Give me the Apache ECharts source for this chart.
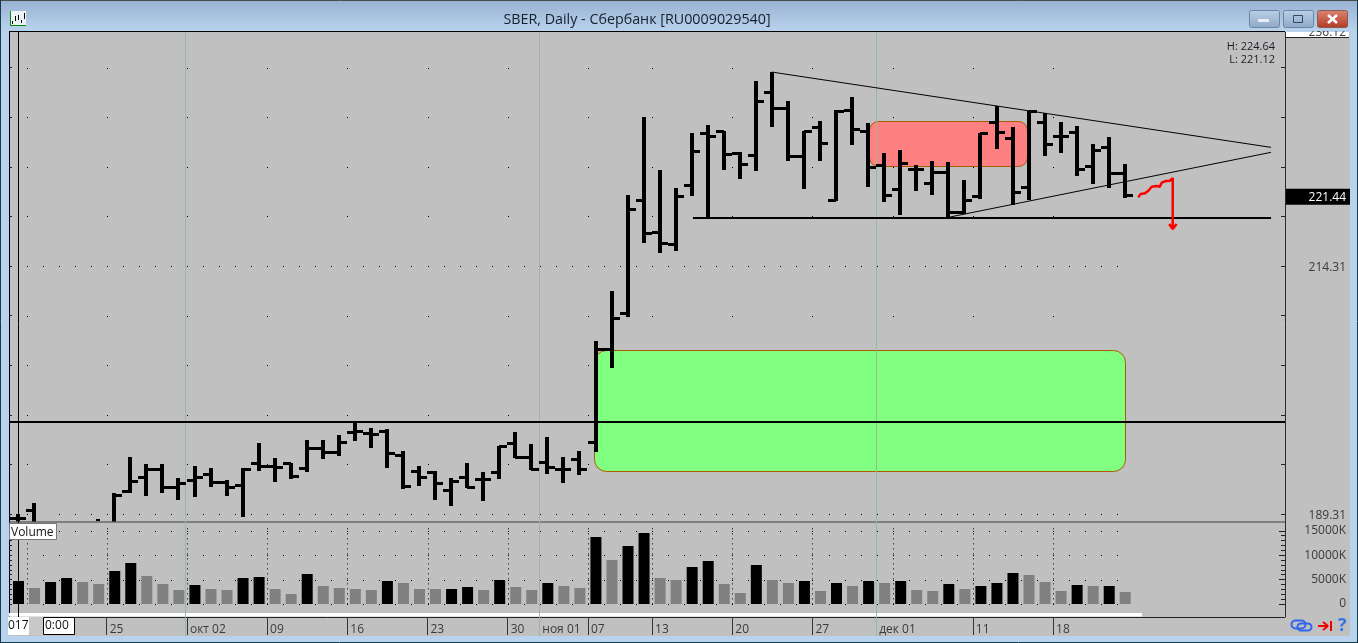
<!DOCTYPE html>
<html><head><meta charset="utf-8">
<style>html,body{margin:0;padding:0;background:#b9d3ee;overflow:hidden}#c{width:1358px;height:643px}</style>
<script src="https://cdn.jsdelivr.net/npm/echarts@6/dist/echarts.min.js"></script>
</head><body><div id="c"></div>
<script>
// Daily bars (null = not readable, outside the visible pane)
const opens=[188.88,189.71,187.5,187.2,187.6,null,188.1,191.66,193.01,193.82,192.06,192.74,193.34,192.57,192.23,194.42,194.15,194.42,193.92,195.93,195.59,197.61,197.44,197.71,195.26,193.67,193.57,191.73,193.07,192.81,193.54,196.44,195.03,194.58,193.85,194.85,196.60,205.97,209.54,220.96,217.74,216.53,222.47,227.75,227.89,225.73,225.50,231.85,230.23,225.40,228.35,220.96,230.03,227.95,224.49,222.04,224.06,222.64,223.81,219.78,221.36,228.85,227.24,222.24,228.85,227.41,227.85,224.39,226.27,223.71];
const highs=[189.36,190.42,188.2,188.1,188.2,188.85,191.40,195.03,194.35,194.35,192.91,194.15,193.92,192.74,193.92,196.44,194.92,194.48,196.77,196.77,197.27,198.51,197.95,197.85,195.69,194.15,193.64,192.91,194.42,193.54,196.19,197.61,196.34,197.04,195.09,195.69,206.75,211.79,221.47,229.30,223.99,222.14,227.68,228.49,227.95,225.83,232.93,233.83,230.91,227.95,228.95,230.03,231.37,228.77,225.67,226.00,224.46,224.89,224.79,222.98,227.75,230.44,228.29,229.96,229.70,228.79,228.42,226.61,227.28,224.64];
const lows=[188.0,187.9,186.6,186.5,186.8,188.65,187.8,191.46,191.12,191.46,190.72,191.05,192.06,191.12,189.04,193.67,192.57,192.81,193.57,194.85,195.19,196.70,195.99,193.98,191.80,192.13,190.72,190.12,191.90,190.65,192.87,194.92,193.75,193.34,192.40,193.21,195.53,204.00,209.14,216.60,215.65,215.85,221.40,219.02,223.99,223.05,223.91,228.29,224.92,222.04,224.92,220.83,226.54,222.24,220.73,219.45,221.90,221.47,219.18,219.55,221.03,226.07,220.46,220.96,225.43,225.67,223.41,222.57,222.20,221.12];
const closes=[188.88,188.2,187.0,187.6,187.2,null,191.23,192.64,193.82,192.06,192.40,193.07,192.57,192.06,193.82,194.15,194.08,193.14,195.93,195.59,196.54,197.71,197.34,195.43,192.13,193.07,192.40,192.64,192.00,192.87,196.16,195.03,193.85,194.08,193.85,193.85,205.97,209.10,220.05,217.67,216.66,221.40,225.93,227.41,225.60,224.59,230.97,230.23,225.43,227.95,226.74,229.96,228.12,224.32,221.47,224.66,224.06,223.81,219.78,220.96,227.68,227.85,221.80,229.90,226.61,227.41,224.09,226.00,223.65,221.44];
const volumes=[4713,3280,4508,5328,4508,4098,6762,8400,5738,4098,2869,3893,3074,2869,5328,5533,3074,2049,6147,3688,3280,3074,2869,4713,4303,3074,3074,3074,3483,2869,4918,3483,2869,4303,3688,3280,13730,9016,11885,14549,5328,4918,7582,8811,4098,2254,7992,4918,4303,4713,2664,4303,3688,4713,4303,4713,2869,2664,4098,3074,3688,4303,6352,5942,4508,2664,3893,3688,3688,2459];
const volumeDark=[1,0,1,1,0,0,1,1,0,0,0,1,0,0,1,1,0,0,1,0,0,0,0,1,0,0,0,1,1,0,1,0,0,1,0,0,1,0,1,1,0,0,1,1,0,0,1,0,0,1,0,1,0,1,0,1,0,0,1,0,1,1,1,0,0,0,1,0,1,0];

const dateTicks=[5.5,10.5,15.5,20.5,25.5,30.5,32.47,35.5,39.5,44.5,49.5,53.47,59.5,64.5];
const dateLabels=['25','окт 02','09','16','23','30','ноя 01','07','13','20','27','дек 01','11','18'];
const weekGrid=[0.5,5.5,10.5,15.5,20.5,25.5,30.5,35.5,39.5,44.5,49.5,54.5,59.5,64.5];
const monthLines=[10.41,32.42,53.43];
const crosshair=[0];
const priceTicks=[189.31,194.31,199.31,204.31,209.31,214.31,219.31,224.31,229.31,234.31];
const priceLabels=[189.31,214.31,221.44];
const volumeMajor=[0,5000,10000,15000];
const volumeMinor=[0,1000,2000,3000,4000,5000,6000,7000,8000,9000,10000,11000,12000,13000,14000,15000];

// Drawn objects on the chart, in (bar index, price)
const zones=[[35.90,69.02,205.84,193.64,'#80ff80','#b05a00',12],[53.05,62.92,228.92,224.39,'#ff8080','#a85a00',9]];
const levelLine=[[-0.592,198.58],[78.96,198.58]];
const supportLine=[[42.05,219.15],[78.09,219.15]];
const upperTrend=[[46.97,233.86],[78.09,226.27]];
const lowerTrend=[[57.95,219.21],[78.09,225.77]];
const redPath=[[69.81,221.23],[69.96,221.57],[70.23,221.64],[70.44,221.90],[70.65,222.30],[70.96,222.37],[71.16,222.30],[71.27,222.71],[71.54,222.88],[71.79,222.91],[71.96,223.18],[71.96,218.04],[71.74,218.55],[71.96,218.04],[72.2,218.55]];

const X_MIN=-0.592,X_MAX=78.96,P_MIN=188.554,P_MAX=237.90,V_MIN=-2664,V_MAX=16800;
const FONT='"Open Sans",sans-serif',TXT='#3a3a3a';

const dots=[];
priceTicks.forEach(p=>{
  if(p===214.31||p===189.31){for(let x=(p===189.31?2.5:0.5);x<=68.5;x++)dots.push([x,p]);if(p===189.31)dots.push([0.5,p]);}
  else weekGrid.forEach(x=>dots.push([x,p]));
});
const volDots=[];
volumeMajor.forEach(v=>{for(let x=1.5;x<=68.5;x++)volDots.push([x,v]);});

function dotItem(params,api){
  const c=api.coord([api.value(0),api.value(1)]);
  return {type:'rect',shape:{x:Math.round(c[0]),y:Math.round(c[1]),width:1,height:1},style:{fill:'#000'}};
}
function ohlcItem(params,api){
  const i=api.value(0),o=api.value(1),h=api.value(2),l=api.value(3),c=api.value(4);
  const cx=Math.round(api.coord([i,h])[0]-0.4);
  const yh=Math.round(api.coord([i,h])[1]),yl=Math.round(api.coord([i,l])[1]);
  const ch=[{type:'rect',shape:{x:cx-2,y:yh,width:4,height:Math.max(yl-yh,1)},style:{fill:'#000'}}];
  if(!isNaN(o)){const y=Math.round(api.coord([i,o])[1]);ch.push({type:'rect',shape:{x:cx-8,y:y-1,width:8,height:3},style:{fill:'#000'}});}
  if(!isNaN(c)){const y=Math.round(api.coord([i,c])[1]);ch.push({type:'rect',shape:{x:cx,y:y-1,width:8,height:3},style:{fill:'#000'}});}
  return {type:'group',children:ch};
}
function zoneItem(params,api){
  const a=api.coord([api.value(0),api.value(2)]),b=api.coord([api.value(1),api.value(3)]);
  const z=zones[params.dataIndex];
  return {type:'rect',shape:{x:Math.round(a[0])+.5,y:Math.round(a[1])+.5,width:Math.round(b[0]-a[0]),height:Math.round(b[1]-a[1]),r:z[6]},style:{fill:z[4],stroke:z[5],lineWidth:1}};
}
function fullLine(color,len){return function(params,api){
  const c=api.coord([api.value(0),P_MAX]);const x=Math.round(c[0])+.5;
  return {type:'line',shape:{x1:x,y1:c[1],x2:x,y2:c[1]+len},style:{stroke:color,lineWidth:1}};
};}
function volDotted(params,api){
  const a=api.coord([api.value(0),15500]),b=api.coord([api.value(0),0]);const x=Math.round(a[0]);
  return {type:'line',shape:{x1:x+.5,y1:a[1],x2:x+.5,y2:b[1]},style:{stroke:'#000',lineWidth:1,lineDash:[1,4]}};
}
function lineSeries(data,w,color,z){return {type:'line',data:data,symbol:'none',silent:true,animation:false,z:z,xAxisIndex:0,yAxisIndex:0,lineStyle:{width:w,color:color}};}

// Window chrome
const L=(x1,y1,x2,y2,c,w,z)=>({type:'line',z:z,silent:true,shape:{x1,y1,x2,y2},style:{stroke:c,lineWidth:w||1}});
const R=(x,y,w,h,fill,z,extra)=>({type:'rect',z:z,silent:true,shape:Object.assign({x,y,width:w,height:h},extra||{}),style:{fill:fill}});
const T=(x,y,t,o,z)=>({type:'text',z:z,silent:true,x:x,y:y,style:Object.assign({text:t,font:'12px '+FONT,fill:TXT,textVerticalAlign:'middle'},o||{})});
const grad=(a,b)=>new echarts.graphic.LinearGradient(0,0,0,1,[{offset:0,color:a},{offset:1,color:b}]);
function button(x,w,a,b){return [
  {type:'rect',z:102,silent:true,shape:{x:x+.5,y:10.5,width:w,height:17,r:2},style:{fill:grad(a,b),stroke:'#6d84a3',lineWidth:1}}
];}
const graphics=[
  R(9,32,1341,604,'#c0c0c0',-2),
  R(9,613,1133,3.5,'#ffffff',1),
  L(9,522,1285,522,'#3c3c3c',1,1),
  L(1285.5,32,1285.5,617,'#2a2a2a',1,1),
  // clipped top label
  R(1286,32,63,5,'#ffffff',1),
  L(1286,37.5,1349,37.5,'#222',1,1),
  T(1346,33,'236.12',{textAlign:'right'},1),
  // H / L
  T(1275,47,'H: 224.64',{textAlign:'right',fill:'#1c1c28',font:'11px '+FONT},8),
  T(1275,60,'L: 221.12',{textAlign:'right',fill:'#1c1c28',font:'11px '+FONT},8),
  // Volume tag
  {type:'rect',z:90,silent:true,shape:{x:9.5,y:523.5,width:47,height:16},style:{fill:'#fff',stroke:'#777',lineWidth:1}},
  T(11,533,'Volume',{fill:'#111',font:'12px '+FONT},91),
  // date box at the left of the time axis
  R(8,617,21,18,'#ffffff',90),
  R(29,617,14,18,'#c8c8c8',90),
  R(43,617,31,18,'#ffffff',90),
  {type:'rect',z:90,silent:true,shape:{x:43.5,y:617.5,width:31,height:17},style:{fill:'transparent',stroke:'#000',lineWidth:1}},
  T(8,626,'017',{fill:'#111'},91),
  T(45,626,'0:00',{fill:'#111'},91),
  // title bar
  {type:'rect',z:100,silent:true,shape:{x:0,y:0,width:1358,height:31},style:{fill:grad('#98b1d1','#b9d2ec')}},
  L(0,.5,1358,.5,'#4a4a4a',1,101),
  L(9,31.5,1285,31.5,'#000',1,101),
  T(637,20,'SBER, Daily - Сбербанк [RU0009029540]',{font:'14.3px '+FONT,fill:'#15202c',textAlign:'center'},101),
  // app icon
  R(10,11,16,15,'#eef2f6',101),
  L(10.5,11,10.5,26,'#0a8a0a',1,102),L(10,25.5,26,25.5,'#0a8a0a',1,102),
  L(12.5,21,12.5,24,'#000',1,102),L(15.5,16,15.5,21,'#000',1,102),L(18.5,15,18.5,20,'#000',1,102),L(21.5,20,21.5,23,'#000',1,102),L(24.5,13,24.5,19,'#000',1,102),
  // window buttons
  ...button(1249,30,'#bcd0e6','#8ea8c8'),...button(1283,30,'#bcd0e6','#8ea8c8'),
  {type:'rect',z:102,silent:true,shape:{x:1317.5,y:10.5,width:30,height:17,r:2},style:{fill:grad('#dc8672','#b23a22'),stroke:'#8e5a55',lineWidth:1}},
  R(1258,19,11,3,'#e8eef5',103),
  {type:'rect',z:103,silent:true,shape:{x:1293.5,y:15.5,width:9,height:7},style:{fill:'transparent',stroke:'#33475f',lineWidth:1}},
  L(1328,15,1337,23,'#fff',2.4,103),L(1337,15,1328,23,'#fff',2.4,103),
  // lower-right tool icons
  {type:'rect',z:103,silent:true,shape:{x:1291.5,y:620.5,width:14,height:8,r:4},style:{fill:'transparent',stroke:'#2f66ee',lineWidth:2}},
  {type:'rect',z:103,silent:true,shape:{x:1297.5,y:623.5,width:14,height:7,r:3.5},style:{fill:'transparent',stroke:'#2f66ee',lineWidth:2}},
  L(1318,626,1327,626,'#f00000',2,103),L(1323,622,1328,626,'#f00000',2,103),L(1323,630,1328,626,'#f00000',2,103),L(1331,621,1331,631,'#f00000',2,103),
  T(1338,626,'?',{font:'bold 18px '+FONT,fill:'#2f74e8'},103),
  // bottom edge
  L(0,642.5,1358,642.5,'#123c4c',1,103),
  L(1357.5,0,1357.5,643,'#123c4c',1,103),L(.5,0,.5,643,'#123c4c',1,103)
];

const baseX={type:'value',min:X_MIN,max:X_MAX,splitLine:{show:false}};
const baseY={type:'value',scale:true,splitLine:{show:false},axisLine:{show:false,onZero:false},axisLabel:{show:false}};
const chart=echarts.init(document.getElementById('c'),null,{renderer:'canvas'});
chart.setOption({
  animation:false,
  backgroundColor:'#b9d3ee',
  grid:[{left:9,top:32,width:1276,height:489.5,show:false},{left:9,top:522,width:1276,height:95,show:false}],
  xAxis:[
    Object.assign({},baseX,{gridIndex:0,position:'top',axisLine:{show:false,onZero:false},axisTick:{show:false},axisLabel:{show:false}}),
    Object.assign({},baseX,{gridIndex:1,position:'bottom',
      axisLine:{show:true,onZero:false,lineStyle:{color:'#222',width:1}},
      axisTick:{show:true,length:18,lineStyle:{color:'#333',width:1},customValues:dateTicks},
      axisLabel:{show:true,customValues:dateTicks,margin:7,align:'left',padding:[0,0,0,3],fontFamily:FONT,fontSize:12,color:TXT,
        formatter:v=>dateLabels[dateTicks.indexOf(v)]||''}})
  ],
  yAxis:[
    Object.assign({},baseY,{gridIndex:0,position:'right',min:P_MIN,max:P_MAX,
      axisLine:{show:false,onZero:false},
      axisTick:{show:true,inside:true,length:4,lineStyle:{color:'#222'},customValues:priceTicks},
      axisLabel:{show:true,customValues:priceLabels,align:'left',margin:0,padding:[3,0,0,0],fontFamily:FONT,fontSize:12,
        formatter:v=>v===221.44?'{tag|'+v.toFixed(2)+'}':'{plain|'+v.toFixed(2)+'}',
        rich:{plain:{width:61,align:'right',color:TXT,fontFamily:FONT,fontSize:12},
              tag:{width:61,height:15,align:'right',color:'#fff',backgroundColor:'#000',padding:[1,4,0,0],fontFamily:FONT,fontSize:12}}}}),
    Object.assign({},baseY,{gridIndex:0,position:'left',min:P_MIN,max:P_MAX,
      axisLine:{show:true,onZero:false,lineStyle:{color:'#000'}},
      axisTick:{show:true,inside:true,length:3,lineStyle:{color:'#222'},customValues:priceTicks}}),
    Object.assign({},baseY,{gridIndex:1,position:'right',min:V_MIN,max:V_MAX,
      axisLine:{show:false,onZero:false},
      axisTick:{show:true,inside:true,length:6,lineStyle:{color:'#222'},customValues:volumeMajor},
      axisLabel:{show:true,customValues:volumeMajor,align:'right',margin:61,padding:[2,0,0,0],fontFamily:FONT,fontSize:12,color:TXT,
        formatter:v=>v===0?'0':v+'K'}}),
    Object.assign({},baseY,{gridIndex:1,position:'right',min:V_MIN,max:V_MAX,
      axisTick:{show:true,inside:true,length:4,lineStyle:{color:'#222'},customValues:volumeMinor}}),
    Object.assign({},baseY,{gridIndex:1,position:'left',min:V_MIN,max:V_MAX,
      axisLine:{show:true,onZero:false,lineStyle:{color:'#000'}},
      axisTick:{show:true,inside:true,length:3,lineStyle:{color:'#222'},customValues:volumeMinor}})
  ],
  series:[
    {type:'custom',name:'grid dots',silent:true,z:1,clip:true,xAxisIndex:0,yAxisIndex:0,renderItem:dotItem,data:dots},
    {type:'custom',name:'zones',silent:true,z:2,clip:true,xAxisIndex:0,yAxisIndex:0,renderItem:zoneItem,data:zones.map(z=>z.slice(0,4))},
    {type:'custom',name:'month lines',silent:true,z:3,clip:false,xAxisIndex:0,yAxisIndex:0,renderItem:fullLine('#9ab89a',604),data:monthLines.map(x=>[x])},
    lineSeries(levelLine,2,'#000',4),
    lineSeries(supportLine,2,'#000',4),
    lineSeries(upperTrend,1,'#000',4),
    lineSeries(lowerTrend,1,'#000',4),
    lineSeries(redPath,2.5,'#ff0000',6),
    {type:'custom',name:'SBER',silent:true,z:5,clip:true,xAxisIndex:0,yAxisIndex:0,renderItem:ohlcItem,
      dimensions:['i','o','h','l','c'],encode:{x:0,y:[1,2,3,4]},
      data:opens.map((o,i)=>[i,o,highs[i],lows[i],closes[i]])},
    {type:'custom',name:'crosshair',silent:true,z:7,clip:false,xAxisIndex:0,yAxisIndex:0,renderItem:fullLine('#000',585),data:crosshair.map(x=>[x])},
    {type:'custom',name:'vol dots',silent:true,z:1,clip:true,xAxisIndex:1,yAxisIndex:2,renderItem:dotItem,data:volDots},
    {type:'custom',name:'vol week lines',silent:true,z:1,clip:true,xAxisIndex:1,yAxisIndex:2,renderItem:volDotted,data:weekGrid.map(x=>[x])},
    {type:'bar',name:'Volume',silent:true,z:3,xAxisIndex:1,yAxisIndex:2,barWidth:11,
      data:volumes.map((v,i)=>({value:[i,v],itemStyle:{color:volumeDark[i]?'#000':'#808080'}}))}
  ],
  graphic:{elements:graphics}
});
</script></body></html>
